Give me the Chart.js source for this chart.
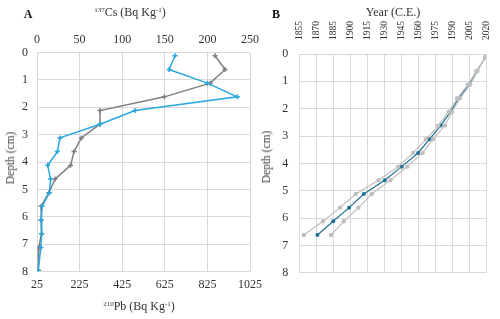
<!DOCTYPE html>
<html>
<head>
<meta charset="utf-8">
<script src="https://cdn.jsdelivr.net/npm/chart.js@4.4.0/dist/chart.umd.min.js"></script>
<style>
  body { margin: 0; background: #fff; }
  #wrap { position: relative; width: 500px; height: 319px; overflow: hidden; font-family: 'Liberation Serif', serif; color: #333; }
  canvas { position: absolute; top: 0; }
  .lbl { position: absolute; transform: translate(-50%, -50%); white-space: nowrap; font-size: 12px; font-weight: normal; }
  .lbl sup { font-size: 7px; vertical-align: 4px; line-height: 0; }
  .panel { font-weight: bold; font-size: 12px; color: #111; }
  .rot { transform: translate(-50%, -50%) rotate(-90deg); font-size: 11.5px; color: #404040; }
</style>
</head>
<body>
<div id="wrap">
  <canvas id="chartA" width="270" height="319" style="left:0"></canvas>
  <canvas id="chartB" width="250" height="319" style="left:250px"></canvas>
  <div class="lbl panel" style="left:28px; top:14px">A</div>
  <div class="lbl" style="left:130px; top:12px"><sup>137</sup>Cs (Bq Kg<sup>-1</sup>)</div>
  <div class="lbl" style="left:139px; top:306px"><sup>210</sup>Pb (Bq Kg<sup>-1</sup>)</div>
  <div class="lbl rot" style="left:10px; top:158px">Depth (cm)</div>
  <div class="lbl panel" style="left:276px; top:14px">B</div>
  <div class="lbl" style="left:393px; top:12px">Year (C.E.)</div>
  <div class="lbl rot" style="left:266px; top:157px">Depth (cm)</div>
</div>
<script>
// panel A: activity profiles
var depthA = [0.12, 0.62, 1.12, 1.62, 2.12, 2.62, 3.12, 3.62, 4.12, 4.62, 5.12, 5.62, 6.12, 6.62, 7.12, 7.95];
var cs137 = [162, 155, 200, 235, 115, 74, 27, 24, 12.5, 16, 14.5, 6, 5, 5.5, 4.5, 1.5];
var pb210 = [861, 908, 838, 623, 321, 321, 233, 199, 183, 110, 81, 44, 44, 47, 34, 31];
var csTicks = [0, 50, 100, 150, 200, 250];
var pbTicks = [25, 225, 425, 625, 825, 1025];

// panel B: age-depth model
var depthB = [0.12, 0.62, 1.12, 1.62, 2.12, 2.62, 3.12, 3.62, 4.12, 4.62, 5.12, 5.62, 6.12, 6.62];
var ageMid = [2019.5, 2012, 2005, 1996, 1988.5, 1980, 1970, 1960, 1945.5, 1930.5, 1912, 1899, 1885, 1871];
var ageOld = [2019.5, 2011.5, 2004, 1994.5, 1987, 1977.8, 1967, 1955.6, 1942.4, 1925, 1905, 1891, 1876, 1859];
var ageYoung = [2019.5, 2012.5, 2006, 1997, 1990, 1983.5, 1973, 1964, 1950.4, 1935.5, 1919, 1907.3, 1894.4, 1883];

var gridCol = '#d9d9d9';
var tickFont = { family: 'Liberation Serif', size: 12 };
var yearFont = { family: 'Liberation Serif', size: 9.5 };
var tickCol = '#333';

function pts(xs, ys) {
  return xs.map(function(v, i) { return { x: v, y: ys[i] }; });
}

function fixSize(dim, val) {
  return function(scale) { scale[dim] = val; };
}

function plain(v) { return String(v); }

var depthAxis = {
  type: 'linear', reverse: true, min: 0, max: 8,
  ticks: { stepSize: 1, font: tickFont, color: tickCol, padding: 9 },
  grid: { color: gridCol, drawTicks: false },
  border: { display: false },
  afterFit: fixSize('width', 37)
};

new Chart(document.getElementById('chartA'), {
  type: 'scatter',
  data: {
    datasets: [{
      label: 'Cs-137',
      data: pts(cs137, depthA),
      xAxisID: 'xCs',
      showLine: true,
      borderColor: '#2aa7df',
      backgroundColor: '#2aa7df',
      borderWidth: 1.5,
      pointStyle: 'cross',
      pointRadius: 2.5,
      pointBorderWidth: 1.5
    }, {
      label: 'Pb-210',
      data: pts(pb210, depthA),
      xAxisID: 'xPb',
      showLine: true,
      borderColor: '#7f7f7f',
      backgroundColor: '#7f7f7f',
      borderWidth: 1.5,
      pointStyle: 'cross',
      pointRadius: 2.5,
      pointBorderWidth: 1.5
    }]
  },
  options: {
    responsive: false,
    animation: false,
    layout: { padding: { left: 0, right: 20, top: 0, bottom: 0 } },
    plugins: { legend: { display: false }, tooltip: { enabled: false } },
    scales: {
      xCs: {
        type: 'linear', position: 'top', min: 0, max: 250,
        afterBuildTicks: function(scale) { scale.ticks = csTicks.map(function(v) { return { value: v }; }); },
        ticks: { font: tickFont, color: tickCol, padding: 5, callback: plain },
        grid: { color: gridCol, drawTicks: false },
        border: { display: false },
        afterFit: fixSize('height', 52.5)
      },
      xPb: {
        type: 'linear', position: 'bottom', min: 25, max: 1025,
        afterBuildTicks: function(scale) { scale.ticks = pbTicks.map(function(v) { return { value: v }; }); },
        ticks: { font: tickFont, color: tickCol, padding: 6, callback: plain },
        grid: { display: false, drawTicks: false },
        border: { display: false },
        afterFit: fixSize('height', 47.5)
      },
      y: depthAxis
    }
  }
});

new Chart(document.getElementById('chartB'), {
  type: 'scatter',
  data: {
    datasets: [{
      label: 'min',
      data: pts(ageOld, depthB),
      showLine: true,
      borderColor: '#bfbfbf',
      backgroundColor: '#bfbfbf',
      borderWidth: 1.2,
      pointRadius: 2.2,
      pointBorderWidth: 0
    }, {
      label: 'max',
      data: pts(ageYoung, depthB),
      showLine: true,
      borderColor: '#bfbfbf',
      backgroundColor: '#bfbfbf',
      borderWidth: 1.2,
      pointRadius: 2.2,
      pointBorderWidth: 0
    }, {
      label: 'age',
      data: pts(ageMid, depthB),
      showLine: true,
      borderColor: '#1f6f94',
      backgroundColor: '#1f6f94',
      borderWidth: 1.2,
      pointRadius: 2,
      pointBorderWidth: 0
    }]
  },
  options: {
    responsive: false,
    animation: false,
    layout: { padding: { left: 0, right: 9.3, top: 0, bottom: 46.3 } },
    plugins: { legend: { display: false }, tooltip: { enabled: false } },
    scales: {
      x: {
        type: 'linear', position: 'top', min: 1855, max: 2020,
        ticks: { stepSize: 15, font: yearFont, color: tickCol, padding: 14, minRotation: 90, maxRotation: 90,
                 labelOffset: 11.4, callback: plain },
        grid: { color: gridCol, drawTicks: false },
        border: { display: false },
        afterFit: fixSize('height', 54)
      },
      y: Object.assign({}, depthAxis, { afterFit: fixSize('width', 49.3), ticks: { stepSize: 1, font: tickFont, color: tickCol, padding: 11 } })
    }
  }
});
</script>
</body>
</html>
